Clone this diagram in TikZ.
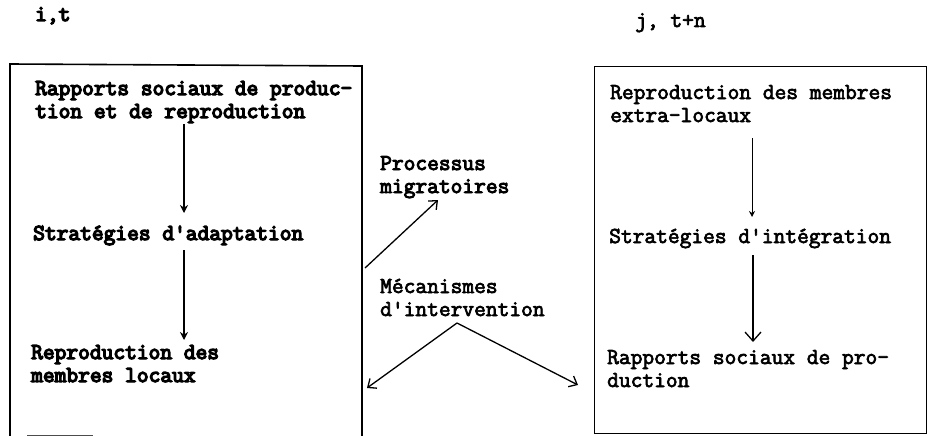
\documentclass[tikz,border=0pt]{standalone}
\usetikzlibrary{arrows.meta}
\usepackage{fontspec}
\newfontfamily\typefont{Latin Modern Mono}
\newcommand\heavyink[1]{\special{pdf:literal direct 2 Tr #1 w}}
\begin{document}
\begin{tikzpicture}[x=1pt,y=-1pt,
  txt/.style={anchor=base west,inner sep=0pt,align=left,
    font=\typefont\fontsize{22.8}{23}\selectfont\heavyink{0.7}},
  btxt/.style={txt,font=\typefont\fontsize{22.8}{23}\selectfont\heavyink{1.3}},
  mtxt/.style={txt,font=\typefont\fontsize{22.8}{23}\selectfont\heavyink{0.95}},
  boxline/.style={line width=1.6pt},
  flow/.style={line width=1.3pt},
  fill tip/.style={-{Stealth[length=8pt,width=8pt]}},
  open tip/.style={-{Straight Barb[length=7pt,width=12pt,line width=1.3pt]}}
]
\useasboundingbox (0,0) rectangle (931,436);

% labels above
\node[btxt] (it) at (35,21) {i,t};
\node[txt] (jt) at (635,27) {j, t+n};

% left box (open at the bottom)
\coordinate (LBtl) at (10,64);
\coordinate (LBtr) at (362,66);
\coordinate (LBbl) at (10,436);
\coordinate (LBbr) at (362,436);
\draw[boxline] (LBbl) -- (LBtl) -- (LBtr) -- (LBbr);
\coordinate (LBs1) at (27,435);
\coordinate (LBs2) at (93,435);
\draw[line width=0.8pt,black!70] (LBs1) -- (LBs2);

% multi-line nodes: base anchor = baseline of the last line
\node[btxt] (l1) at (35,118) {Rapports sociaux de produc-\\tion et de reproduction};
\node[btxt] (l2) at (33,240) {Stratégies d'adaptation};
\node[btxt] (l3) at (31,382) {Reproduction des\\membres locaux};

\coordinate (la1) at (184,124);
\coordinate (la2) at (184,213);
\coordinate (la3) at (184,250);
\coordinate (la4) at (184,340);
\draw[flow,fill tip] (la1) -- (la2);
\draw[flow,fill tip] (la3) -- (la4);

% right box
\node[draw,line width=1.3pt,inner sep=0pt,minimum width=332pt,minimum height=367pt,anchor=north west] (RB) at (594,66) {};

\node[txt] (r1) at (610,122) {Reproduction des membres\\extra-locaux};
\node[txt] (r2) at (609,243) {Stratégies d'intégration};
\node[txt] (r3) at (607,387) {Rapports sociaux de pro-\\duction};

\coordinate (ra1) at (752,138);
\coordinate (ra2) at (752,217);
\coordinate (ra3) at (753,255);
\coordinate (ra4) at (753,342);
\draw[line width=1pt,-{Stealth[length=6pt,width=6pt]}] (ra1) -- (ra2);
\draw[line width=1.3pt,-{Straight Barb[length=9pt,width=16pt,line width=1.3pt]}] (ra3) -- (ra4);

% middle
\node[mtxt] (pm) at (380,193) {Processus\\migratoires};
\node[txt] (mi) at (380,316) {Mécanismes\\d'intervention};

\coordinate (ms) at (365,268);
\coordinate (me) at (438,200);
\draw[flow,open tip] (ms) -- (me);

\coordinate (apex) at (457,323);
\coordinate (vl) at (367,388);
\coordinate (vr) at (578,385);
\draw[flow,open tip] (apex) -- (vl);
\draw[flow,open tip] (apex) -- (vr);
\end{tikzpicture}
\end{document}
